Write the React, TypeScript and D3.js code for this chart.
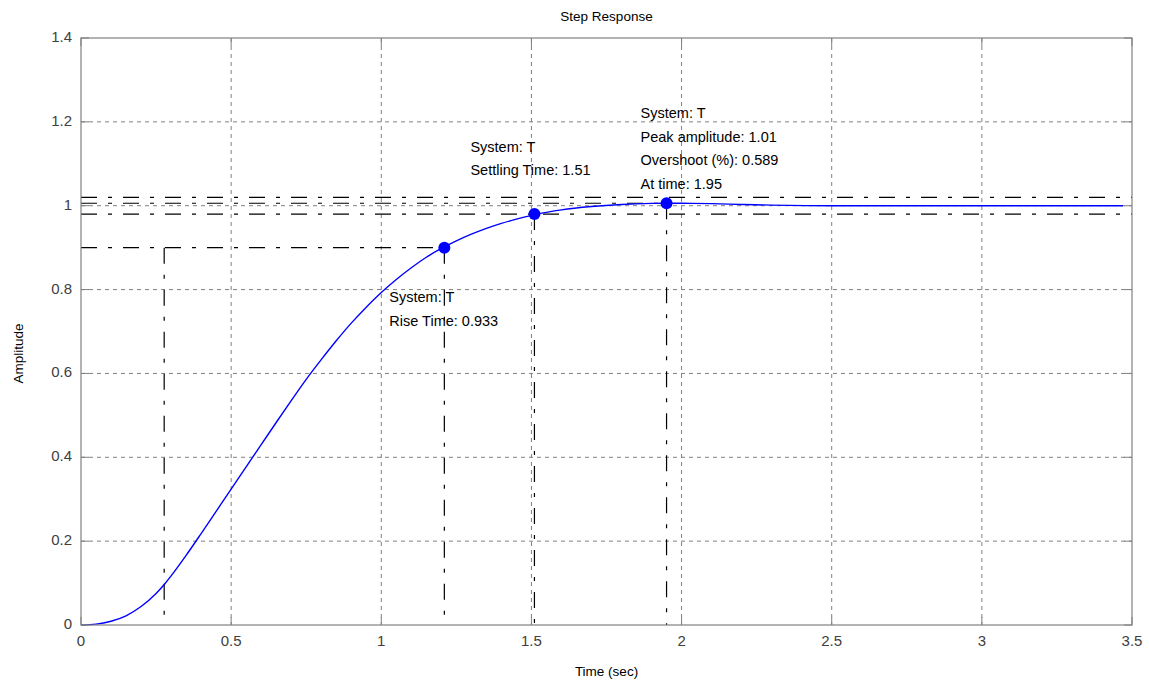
import React from "react";
import * as d3 from "d3";

const timeValues = [0, 0.05, 0.1, 0.15, 0.2, 0.25, 0.28, 0.3, 0.35, 0.4, 0.45, 0.5, 0.55, 0.6, 0.65, 0.7, 0.75, 0.8, 0.85, 0.9, 0.95, 1.0, 1.05, 1.1, 1.15, 1.2, 1.25, 1.3, 1.35, 1.4, 1.45, 1.5, 1.55, 1.6, 1.7, 1.8, 1.9, 1.95, 2.0, 2.1, 2.2, 2.3, 2.5, 3.0, 3.47];
const amplitudeValues = [0, 0.002, 0.009, 0.022, 0.044, 0.075, 0.099, 0.117, 0.166, 0.218, 0.271, 0.324, 0.377, 0.43, 0.483, 0.535, 0.586, 0.633, 0.678, 0.72, 0.758, 0.793, 0.824, 0.852, 0.877, 0.898, 0.916, 0.932, 0.946, 0.958, 0.968, 0.977, 0.984, 0.99, 0.998, 1.003, 1.0055, 1.006, 1.0058, 1.005, 1.003, 1.0015, 1.0, 1.0, 1.0];

const xTicks = [0, 0.5, 1, 1.5, 2, 2.5, 3, 3.5];
const xTickLabels = ["0", "0.5", "1", "1.5", "2", "2.5", "3", "3.5"];
const yTicks = [0, 0.2, 0.4, 0.6, 0.8, 1, 1.2, 1.4];
const yTickLabels = ["0", "0.2", "0.4", "0.6", "0.8", "1", "1.2", "1.4"];

const riseStart = 0.277;
const riseEnd = { t: 1.21, a: 0.9 };
const settling = { t: 1.51, a: 0.98 };
const peak = { t: 1.95, a: 1.0059 };
const settlingBand = [1.02, 0.98];

const riseText = ["System: T", "Rise Time: 0.933"];
const settlingText = ["System: T", "Settling Time: 1.51"];
const peakText = ["System: T", "Peak amplitude: 1.01", "Overshoot (%): 0.589", "At time: 1.95"];

const W = 1149, H = 684;
const L = 81, R = 1132, T = 38, B = 625;

export default function App() {
  const x = d3.scaleLinear().domain([0, 3.5]).range([L, R]);
  const y = d3.scaleLinear().domain([0, 1.4]).range([B, T]);
  const pts = timeValues.map((t, i) => [t, amplitudeValues[i]] as [number, number]);
  const line = d3.line<[number, number]>().x(d => x(d[0])).y(d => y(d[1])).curve(d3.curveMonotoneX);
  const grid = "#808080";
  const dashDot = "16,11,4,11";
  const font = "'Liberation Sans', Arial, sans-serif";
  const lh = 23.5;
  const textLines = (lines: string[], x0: number, y0: number) =>
    lines.map((s, i) => (
      <text key={i} x={x0} y={y0 + i * lh} fontSize={14.5} fill="#000" fontFamily={font} dominantBaseline="middle">{s}</text>
    ));
  return (
    <svg width={W} height={H} style={{ position: "absolute", left: 0, top: 0, background: "#fff" }}>
      <rect x={0} y={0} width={W} height={H} fill="#fff" />
      {xTicks.slice(1, -1).map(t => (
        <line key={"gx" + t} x1={x(t)} x2={x(t)} y1={T} y2={B} stroke={grid} strokeDasharray="4,4" strokeWidth={1} />
      ))}
      {yTicks.slice(1, -1).map(v => (
        <line key={"gy" + v} x1={L} x2={R} y1={y(v)} y2={y(v)} stroke={grid} strokeDasharray="4,4" strokeWidth={1} />
      ))}
      <g stroke="#000" strokeWidth={1.2} strokeDasharray={dashDot} fill="none">
        {settlingBand.map(v => (
          <line key={"sb" + v} x1={L} x2={R} y1={y(v)} y2={y(v)} />
        ))}
        <line x1={L} x2={x(riseEnd.t)} y1={y(riseEnd.a)} y2={y(riseEnd.a)} />
        <line x1={x(riseStart)} x2={x(riseStart)} y1={y(riseEnd.a)} y2={B} />
        <line x1={x(riseEnd.t)} x2={x(riseEnd.t)} y1={y(riseEnd.a)} y2={B} />
        <line x1={x(settling.t)} x2={x(settling.t)} y1={y(settling.a)} y2={B} />
        <line x1={L} x2={x(peak.t)} y1={y(peak.a)} y2={y(peak.a)} />
        <line x1={x(peak.t)} x2={x(peak.t)} y1={y(peak.a)} y2={B} />
      </g>
      <path d={line(pts) || ""} fill="none" stroke="#0000ff" strokeWidth={1.4} />
      {[riseEnd, settling, peak].map((p, i) => (
        <circle key={"m" + i} cx={x(p.t)} cy={y(p.a)} r={6} fill="#0000ff" />
      ))}
      <rect x={L} y={T} width={R - L} height={B - T} fill="none" stroke={grid} strokeWidth={1.2} />
      {xTicks.map(t => (
        <g key={"tx" + t}>
          <line x1={x(t)} x2={x(t)} y1={B} y2={B - 8} stroke={grid} />
          <line x1={x(t)} x2={x(t)} y1={T} y2={T + 8} stroke={grid} />
        </g>
      ))}
      {yTicks.map(v => (
        <g key={"ty" + v}>
          <line x1={L} x2={L + 8} y1={y(v)} y2={y(v)} stroke={grid} />
          <line x1={R} x2={R - 8} y1={y(v)} y2={y(v)} stroke={grid} />
        </g>
      ))}
      {xTicks.map((t, i) => (
        <text key={"lx" + t} x={x(t)} y={B + 17} fontSize={15} fill="#404040" textAnchor="middle" fontFamily={font} dominantBaseline="middle">{xTickLabels[i]}</text>
      ))}
      {yTicks.map((v, i) => (
        <text key={"ly" + v} x={L - 9} y={y(v)} fontSize={15} fill="#404040" textAnchor="end" fontFamily={font} dominantBaseline="middle">{yTickLabels[i]}</text>
      ))}
      <text x={(L + R) / 2} y={17} fontSize={13.5} textAnchor="middle" fontFamily={font} dominantBaseline="middle" fill="#000">Step Response</text>
      <text x={(L + R) / 2} y={672} fontSize={13.5} textAnchor="middle" fontFamily={font} dominantBaseline="middle" fill="#000">Time (sec)</text>
      <text transform={`translate(19,${(T + B) / 2 + 22}) rotate(-90)`} fontSize={13.5} textAnchor="middle" fontFamily={font} dominantBaseline="middle" fill="#000">Amplitude</text>
      {textLines(riseText, x(riseEnd.t) - 55, y(riseEnd.a) + 51)}
      {textLines(settlingText, x(settling.t) - 64, y(settling.a) - 66)}
      {textLines(peakText, x(peak.t) - 26, y(peak.a) - 89)}
    </svg>
  );
}
